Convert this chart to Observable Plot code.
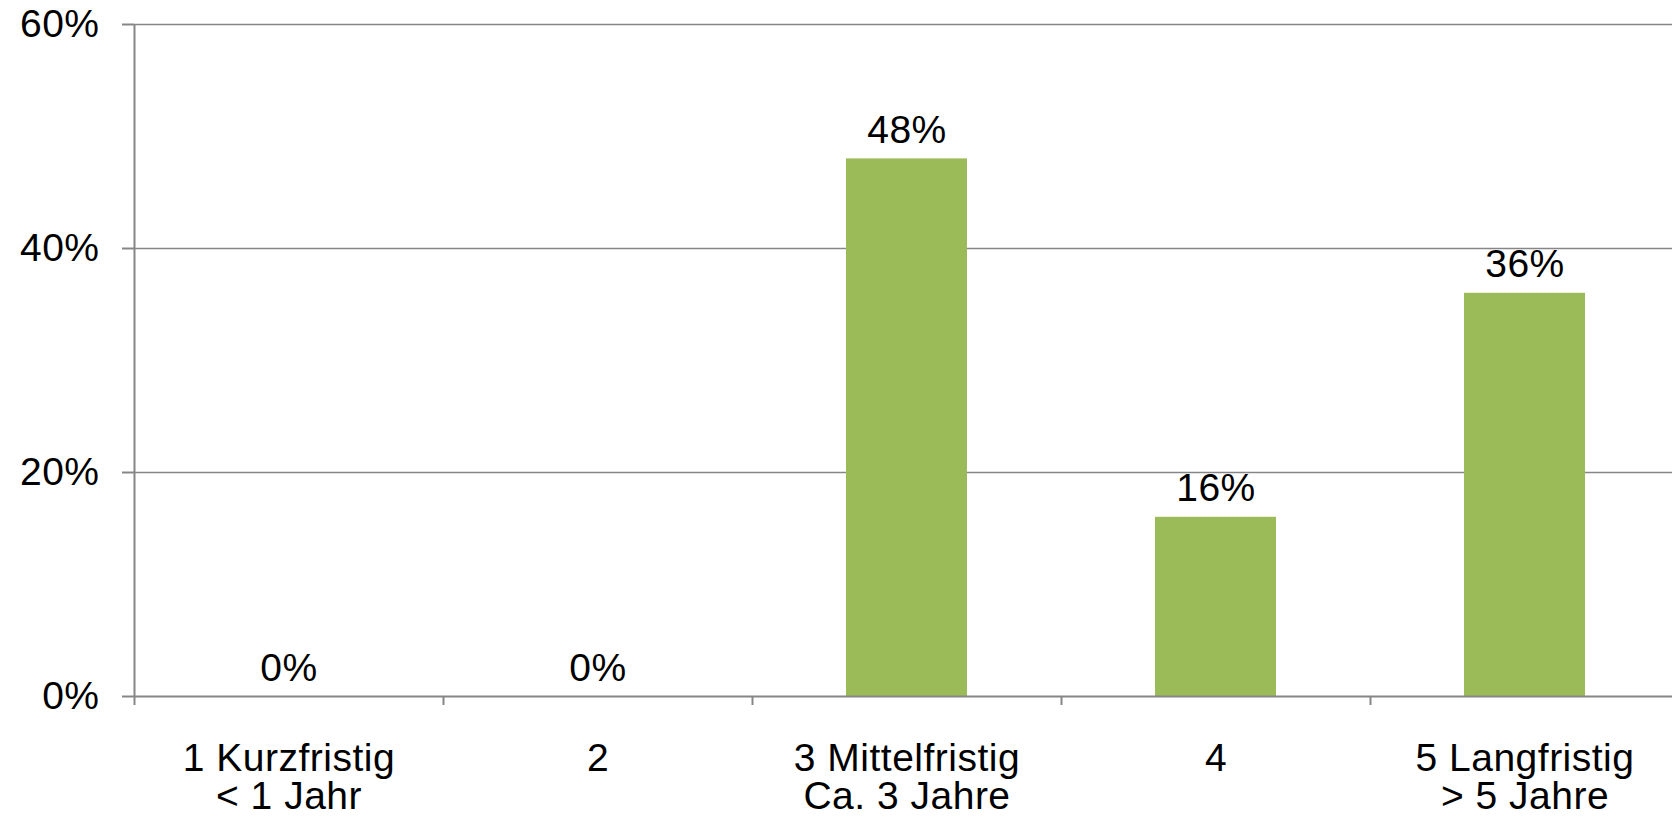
<!DOCTYPE html>
<html>
<head>
<meta charset="utf-8">
<script src="https://cdn.jsdelivr.net/npm/d3@7"></script>
<script src="https://cdn.jsdelivr.net/npm/@observablehq/plot@0.6"></script>
<style>
  html, body { margin: 0; padding: 0; background: #fff; overflow: hidden; }
  #chart svg { display: block; }
</style>
</head>
<body>
<div id="chart"></div>
<script>
const categories = ["1 Kurzfristig\n< 1 Jahr", "2", "3 Mittelfristig\nCa. 3 Jahre", "4", "5 Langfristig\n> 5 Jahre"];
const values = [0, 0, 48, 16, 36];
const yTicks = [0, 20, 40, 60];
const gridTicks = [20, 40, 60];

const data = categories.map((c, i) => ({cat: c, value: values[i]}));

const W = 1672, H = 819;
const mL = 134, mR = -7, mT = 24, mB = 123;
const step = (W - mL - mR) / categories.length;
const axisGray = "#868686";
const font = "'Liberation Sans', Arial, sans-serif";

const chart = Plot.plot({
  width: W,
  height: H,
  marginLeft: mL,
  marginRight: mR,
  marginTop: mT,
  marginBottom: mB,
  style: {fontFamily: font, fontSize: "39px", color: "black", background: "white", letterSpacing: "0.5px"},
  x: {domain: categories, paddingInner: 0.61, paddingOuter: 0.305, axis: null, label: null},
  y: {domain: [0, 60], axis: null, label: null},
  marks: [
    Plot.gridY(gridTicks, {stroke: axisGray, strokeOpacity: 1, strokeWidth: 1.5}),
    Plot.barY(data, {x: "cat", y: "value", fill: "#9BBB59"}),
    Plot.ruleY([0], {stroke: axisGray, strokeWidth: 2}),
    Plot.ruleX([categories[0]], {y1: 0, y2: 60, dx: -step / 2, stroke: axisGray, strokeWidth: 2}),
    Plot.axisY(yTicks, {label: null, tickSize: 12, tickPadding: 23, tickFormat: d => d + "%", fontSize: 39, stroke: axisGray, strokeWidth: 2, fill: "black"}),
    Plot.axisX(categories, {label: null, tickSize: 9, tickFormat: () => "", dx: -step / 2, stroke: axisGray, strokeWidth: 2}),
    Plot.axisX(categories, {label: null, tickSize: 0, tickPadding: 48, fontSize: 39, lineHeight: 0.97, fill: "black"}),
    Plot.text(data, {x: "cat", y: "value", text: d => d.value + "%", lineAnchor: "bottom", dy: -16, fontSize: 39, fill: "black"})
  ]
});
document.getElementById("chart").appendChild(chart);
</script>
</body>
</html>
